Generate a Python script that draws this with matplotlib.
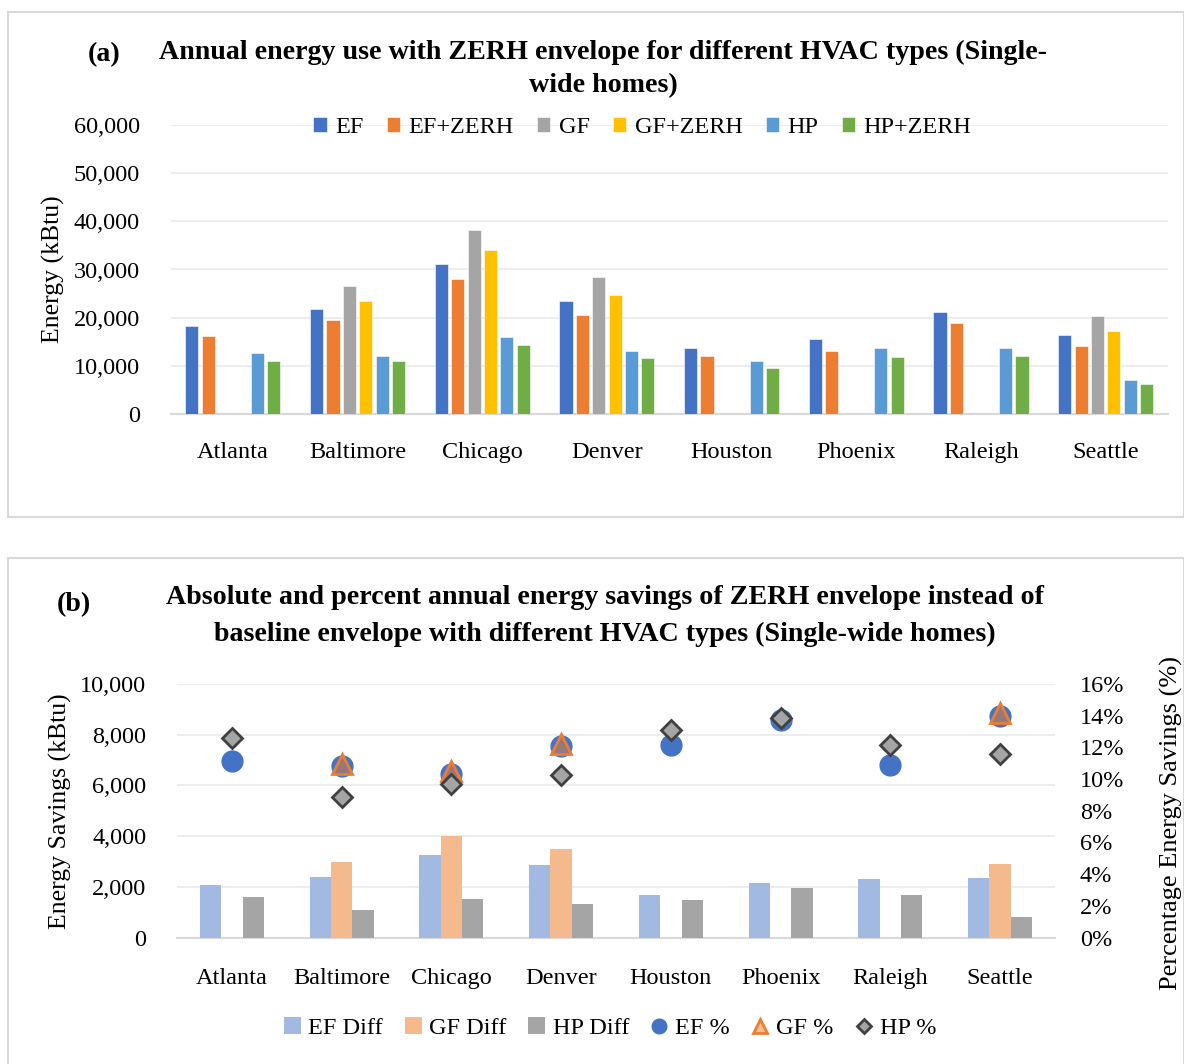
import numpy as np
import matplotlib
matplotlib.use("Agg")
from matplotlib import pyplot as plt
from matplotlib.patches import Rectangle
from matplotlib.ticker import FuncFormatter

plt.rcParams['font.family'] = ['Liberation Serif', 'DejaVu Serif']

cities = ['Atlanta', 'Baltimore', 'Chicago', 'Denver', 'Houston', 'Phoenix', 'Raleigh', 'Seattle']

# panel (a) annual energy use, kBtu (nan = no gas furnace case)
ef = [18300, 21900, 31200, 23400, 13800, 15500, 21200, 16500]
ef_zerh = [16200, 19600, 28100, 20500, 12000, 13100, 18800, 14100]
gf = [np.nan, 26500, 38200, 28400, np.nan, np.nan, np.nan, 20300]
gf_zerh = [np.nan, 23400, 34000, 24700, np.nan, np.nan, np.nan, 17200]
hp = [12600, 12000, 15900, 13100, 11000, 13800, 13800, 7100]
hp_zerh = [11000, 11000, 14400, 11600, 9500, 11800, 12000, 6200]

# panel (b) savings, kBtu and fraction
ef_diff = [2090, 2400, 3260, 2850, 1680, 2140, 2300, 2340]
gf_diff = [np.nan, 2960, 4020, 3510, np.nan, np.nan, np.nan, 2900]
hp_diff = [1590, 1090, 1530, 1320, 1480, 1940, 1680, 820]
ef_pct = [0.1116, 0.1085, 0.103, 0.1209, 0.1215, 0.1373, 0.1089, 0.140]
gf_pct = [np.nan, 0.1095, 0.105, 0.122, np.nan, np.nan, np.nan, 0.1415]
hp_pct = [0.126, 0.0885, 0.0967, 0.1024, 0.1308, 0.1388, 0.1213, 0.116]

W, H = 1184, 1064
fig = plt.figure(figsize=(W / 100, H / 100), dpi=100)

def px_axes(l, t, r, b):
    return fig.add_axes([l / W, 1 - b / H, (r - l) / W, (b - t) / H])

# panel frames
for y0, y1 in [(12, 517), (558, 1070)]:
    fig.patches.append(Rectangle((8 / W, 1 - y1 / H), (W - 8) / W, (y1 - y0) / H,
                                 transform=fig.transFigure, fill=False,
                                 edgecolor='#D9D9D9', linewidth=1.5))

thousands = FuncFormatter(lambda v, p: f'{int(v):,}')
TICK = 17.5
TITLE = 20.2

# ---------------- panel (a)
ax = px_axes(170.6, 125, 1168, 414)
x = np.arange(len(cities))
series = [ef, ef_zerh, gf, gf_zerh, hp, hp_zerh]
names = ['EF', 'EF+ZERH', 'GF', 'GF+ZERH', 'HP', 'HP+ZERH']
colors = ['#4472C4', '#ED7D31', '#A5A5A5', '#FFC000', '#5B9BD5', '#70AD47']
pitch = 0.1315
for i, (s, n, c) in enumerate(zip(series, names, colors)):
    ax.bar(x + (i - 2.5) * pitch, s, width=0.105, color=c, label=n, zorder=3,
           edgecolor='white', linewidth=0.4)
ax.set_xlim(-0.5, len(cities) - 0.5)
ax.set_ylim(0, 60000)
ax.set_yticks(np.arange(0, 60001, 10000))
ax.yaxis.set_major_formatter(thousands)
ax.grid(axis='y', color='#EDEDED', linewidth=1.5, zorder=0)
ax.set_xticks(x)
ax.set_xticklabels(cities)
ax.tick_params(axis='both', length=0, labelsize=TICK)
ax.tick_params(axis='x', pad=20)
ax.tick_params(axis='y', pad=22)
for sp in ['top', 'right', 'left']:
    ax.spines[sp].set_visible(False)
ax.spines['bottom'].set_color('#D9D9D9')
ax.spines['bottom'].set_linewidth(1.5)
ax.set_ylabel('Energy (kBtu)', fontsize=18.5, labelpad=6)
ax.legend(loc='center', bbox_to_anchor=(0.473, 0.99), ncol=6, frameon=False,
          fontsize=TICK, handlelength=0.55, handleheight=0.55, handletextpad=0.35,
          columnspacing=0.95)
fig.text(88 / W, 1 - 55 / H, '(a)', fontsize=TITLE, fontweight='bold', va='center')
fig.text(603 / W, 1 - 52 / H, 'Annual energy use with ZERH envelope for different HVAC types (Single-',
         fontsize=TITLE, fontweight='bold', ha='center', va='center')
fig.text(603 / W, 1 - 86 / H, 'wide homes)', fontsize=TITLE, fontweight='bold', ha='center', va='center')

# ---------------- panel (b)
bx = px_axes(177, 684, 1055, 937.5)
bw = 0.194
bx.bar(x - bw, ef_diff, width=bw, color='#A2B9E2', label='EF Diff', zorder=3)
bx.bar(x, gf_diff, width=bw, color='#F4B98C', label='GF Diff', zorder=3)
bx.bar(x + bw, hp_diff, width=bw, color='#A5A5A5', label='HP Diff', zorder=3)
bx.set_xlim(-0.5, len(cities) - 0.5)
bx.set_ylim(0, 10000)
bx.set_yticks(np.arange(0, 10001, 2000))
bx.yaxis.set_major_formatter(thousands)
bx.grid(axis='y', color='#EDEDED', linewidth=1.5, zorder=0)
bx.set_xticks(x)
bx.set_xticklabels(cities)
bx.tick_params(axis='both', length=0, labelsize=TICK)
bx.tick_params(axis='x', pad=22)
bx.tick_params(axis='y', pad=22)
for sp in ['top', 'right', 'left']:
    bx.spines[sp].set_visible(False)
bx.spines['bottom'].set_color('#D9D9D9')
bx.spines['bottom'].set_linewidth(1.5)
bx.set_ylabel('Energy Savings (kBtu)', fontsize=18.5, labelpad=6)

tx = bx.twinx()
tx.plot(x, ef_pct, 'o', color='#4472C4', markersize=15, label='EF %', zorder=4)
tx.plot(x, gf_pct, '^', markerfacecolor=(0.93, 0.49, 0.19, 0.5), markeredgecolor='#ED7D31',
        markeredgewidth=2, markersize=14, label='GF %', zorder=5)
tx.plot(x, hp_pct, 'D', markerfacecolor='#A5A5A5', markeredgecolor='#404040',
        markeredgewidth=2, markersize=10, label='HP %', zorder=6)
tx.set_ylim(0, 0.16)
tx.set_yticks(np.arange(0, 0.161, 0.02))
tx.yaxis.set_major_formatter(FuncFormatter(lambda v, p: f'{v * 100:.0f}%'))
tx.tick_params(axis='y', length=0, labelsize=TICK, pad=18)
for sp in ['top', 'right', 'left', 'bottom']:
    tx.spines[sp].set_visible(False)
tx.set_ylabel('Percentage Energy Savings (%)', fontsize=19, labelpad=14)
tx.yaxis.set_label_coords(1.12, 0.45)

h1, l1 = bx.get_legend_handles_labels()
h2, l2 = tx.get_legend_handles_labels()
fig.legend(h1 + h2, l1 + l2, loc='center', bbox_to_anchor=(610 / W, 1 - 1028 / H), ncol=6,
           frameon=False, fontsize=TICK, handlelength=0.7, handleheight=0.7, handletextpad=0.3,
           columnspacing=0.9, markerscale=0.7)
fig.text(57 / W, 1 - 605 / H, '(b)', fontsize=TITLE, fontweight='bold', va='center')
fig.text(605 / W, 1 - 598 / H, 'Absolute and percent annual energy savings of ZERH envelope instead of',
         fontsize=TITLE, fontweight='bold', ha='center', va='center')
fig.text(605 / W, 1 - 634 / H, 'baseline envelope with different HVAC types (Single-wide homes)',
         fontsize=TITLE, fontweight='bold', ha='center', va='center')

fig.savefig('out.png', dpi=100)
